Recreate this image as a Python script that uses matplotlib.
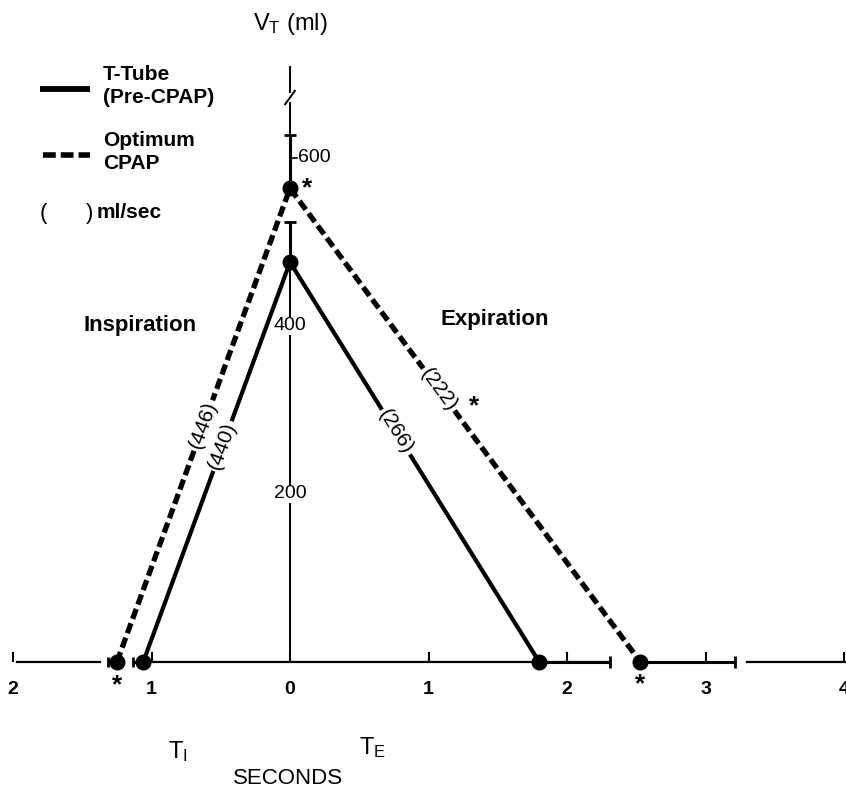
import matplotlib
matplotlib.use("Agg")
import matplotlib.pyplot as plt
import numpy as np

plt.rcParams['font.family'] = ['Liberation Sans', 'DejaVu Sans']

# ---------------- data ----------------
series = ["T-Tube (Pre-CPAP)", "Optimum CPAP"]
ti = [1.06, 1.25]          # inspiratory time (s)
ti_err = [0.07, 0.065]
te = [1.80, 2.53]          # expiratory time (s)
te_err = [0.51, 0.68]
vt = [476, 564]            # tidal volume (ml)
vt_err = [48, 63]
insp_flow = ["(440)", "(446)"]   # ml/sec
exp_flow = ["(266)", "(222)"]
x_ticks = [-2, -1, 0, 1, 2, 3, 4]
x_tick_labels = ["2", "1", "0", "1", "2", "3", "4"]
y_ticks = [200, 400, 600]

# ---------------- layout ----------------
W, H = 846, 791
X0, SX = 290.0, 138.5      # pixel of x=0, pixels per second
Y0, SY = 662.0, 0.84       # pixel of baseline, pixels per ml

fig = plt.figure(figsize=(W / 100, H / 100), dpi=100)
ax = fig.add_axes([0, 0, 1, 1])
ax.set_xlim(-X0 / SX, (W - X0) / SX)
ax.set_ylim(-(H - Y0) / SY, Y0 / SY)
for s in ax.spines.values():
    s.set_visible(False)
ax.spines['bottom'].set_position(('data', 0))
ax.set_yticks([])
ax.set_xticks(x_ticks, labels=x_tick_labels)
ax.tick_params(axis='x', direction='in', length=7, width=1.5, pad=14,
               labelsize=14)
for lab in ax.get_xticklabels():
    lab.set_fontweight('bold')


def P(px, py):
    return px / W, 1 - py / H

# x-axis segments (with gaps like the original)
for a, b in [(-1.97, -1.37), (-1.0, te[0] + te_err[0]), (3.30, 4.2)]:
    ax.plot([a, b], [0, 0], color='black', lw=1.6, zorder=2)

# y-axis (broken near the top)
ax.plot([0, 0], [0, vt[0]], color='black', lw=1.4, zorder=2)
ax.plot([0, 0], [vt[1] + vt_err[1], 665], color='black', lw=1.4, zorder=2)
ax.plot([0, 0], [679, 708], color='black', lw=1.4, zorder=2)
ax.plot([-0.035, 0.035], [664, 680], color='black', lw=1.4, zorder=2)

styles = [dict(ls='-', lw=3.0), dict(ls=(0, (2.0, 0.9)), lw=3.8)]
insp_frac = [0.54, 0.50]
exp_frac = [0.575, 0.575]

for i in range(2):
    xs = [-ti[i], 0, te[i]]
    ys = [0, vt[i], 0]
    ax.plot(xs, ys, color='black', solid_capstyle='butt', dash_capstyle='butt',
            zorder=3, **styles[i])
    ax.plot(xs, ys, 'o', color='black', ms=10.5, zorder=5, ls='none')
    ax.errorbar(0, vt[i], yerr=[[0], [vt_err[i]]], fmt='none', ecolor='black',
                elinewidth=2.2, capsize=4, capthick=2.0, zorder=4)
    ax.errorbar(te[i], 0, xerr=[[0], [te_err[i]]], fmt='none', ecolor='black',
                elinewidth=2.2, capsize=4.5, capthick=2.0, zorder=4)
    ax.errorbar(-ti[i], 0, xerr=[[ti_err[i]], [0]], fmt='none', ecolor='black',
                elinewidth=2.2, capsize=3.5, capthick=2.0, zorder=4)

fig.canvas.draw()


def angle(p, q):
    a = ax.transData.transform(p)
    b = ax.transData.transform(q)
    return np.degrees(np.arctan2(b[1] - a[1], b[0] - a[0]))

for i in range(2):
    f = insp_frac[i]
    ang = angle((-ti[i], 0), (0, vt[i]))
    ax.text(-ti[i] * (1 - f), f * vt[i], insp_flow[i], rotation=ang,
            rotation_mode='anchor', ha='center', va='center', fontsize=15,
            bbox=dict(facecolor='white', edgecolor='none', pad=1.5), zorder=6)
    f = exp_frac[i]
    ang = angle((0, vt[i]), (te[i], 0))
    ax.text(te[i] * (1 - f), f * vt[i], exp_flow[i], rotation=ang,
            rotation_mode='anchor', ha='center', va='center', fontsize=15,
            bbox=dict(facecolor='white', edgecolor='none', pad=1.5), zorder=6)

# significance asterisks
ast = dict(ha='center', va='center', fontsize=19, fontweight='bold',
           textcoords='offset points')
ax.annotate('*', (0, vt[1]), xytext=(12, 0), **ast)
ax.annotate('*', (-ti[1], 0), xytext=(0, -17), **ast)
ax.annotate('*', (te[1], 0), xytext=(0, -16), **ast)
ax.annotate('*', (te[1] * (1 - 0.546), 0.546 * vt[1]), xytext=(18, -2), **ast)

# y tick labels on the axis
for v in y_ticks[:2]:
    ax.text(0, v, str(v), ha='center', va='center', fontsize=14,
            bbox=dict(facecolor='white', edgecolor='none', pad=0.5), zorder=6)
ax.plot([0, 0.05], [y_ticks[2], y_ticks[2]], color='black', lw=1.2)
ax.text(0.055, y_ticks[2], str(y_ticks[2]), ha='left', va='center', fontsize=14)

# title and labels
fig.text(*P(290, 24), r"$\mathregular{V_T}$ (ml)", ha='center', va='center',
         fontsize=17)
fig.text(*P(140, 325), "Inspiration", ha='center', va='center', fontsize=16,
         fontweight='bold')
fig.text(*P(495, 320), "Expiration", ha='center', va='center', fontsize=16,
         fontweight='bold')
fig.text(*P(178, 752), r"$\mathregular{T_I}$", ha='center', va='center',
         fontsize=17)
fig.text(*P(372, 748), r"$\mathregular{T_E}$", ha='center', va='center',
         fontsize=17)
fig.text(*P(288, 778), "SECONDS", ha='center', va='center', fontsize=16)

# legend (hand drawn like the original)
lx0, lx1 = P(40, 0)[0], P(90, 0)[0]
fig.add_artist(plt.Line2D([lx0, lx1], [P(0, 89)[1]] * 2, color='black', lw=4.2,
                          solid_capstyle='butt'))
fig.add_artist(plt.Line2D([P(43, 0)[0], lx1], [P(0, 155)[1]] * 2, color='black',
                          lw=4.0, ls=(0, (2.3, 0.9))))
fig.text(*P(103, 86), "T-Tube\n(Pre-CPAP)", ha='left', va='center',
         fontsize=15, fontweight='bold', linespacing=1.3)
fig.text(*P(103, 152), "Optimum\nCPAP", ha='left', va='center',
         fontsize=15, fontweight='bold', linespacing=1.3)
fig.text(*P(40, 213), "(", ha='left', va='center', fontsize=16)
fig.text(*P(86, 213), ")", ha='left', va='center', fontsize=16)
fig.text(*P(97, 213), "ml/sec", ha='left', va='center', fontsize=15,
         fontweight='bold')

fig.savefig("out.png", dpi=100, facecolor='white')
